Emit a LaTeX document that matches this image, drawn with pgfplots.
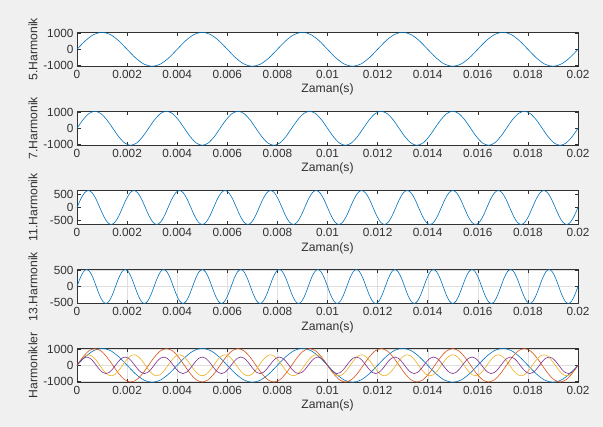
\documentclass[border=0pt]{standalone}
\usepackage{fontspec}
\setmainfont{Liberation Sans}
\usepackage{pgfplots}
\usepackage{pgfplotstable}
\pgfplotsset{compat=1.18}
\definecolor{mblue}{RGB}{0,114,189}
\definecolor{morange}{RGB}{217,83,25}
\definecolor{myellow}{RGB}{237,177,32}
\definecolor{mpurple}{RGB}{126,47,142}
\definecolor{figbg}{RGB}{240,240,240}
\definecolor{axcol}{RGB}{50,50,50}
\definecolor{gridcol}{RGB}{223,223,223}

\pgfplotstableread{
t v
0 0
0.000333 535
0.000667 927
0.001 1070
0.001333 927
0.001667 535
0.002 0
0.002333 -535
0.002667 -927
0.003 -1070
0.003333 -927
0.003667 -535
0.004 0
0.004333 535
0.004667 927
0.005 1070
0.005333 927
0.005667 535
0.006 0
0.006333 -535
0.006667 -927
0.007 -1070
0.007333 -927
0.007667 -535
0.008 0
0.008333 535
0.008667 927
0.009 1070
0.009333 927
0.009667 535
0.010 0
0.010333 -535
0.010667 -927
0.011 -1070
0.011333 -927
0.011667 -535
0.012 0
0.012333 535
0.012667 927
0.013 1070
0.013333 927
0.013667 535
0.014 0
0.014333 -535
0.014667 -927
0.015 -1070
0.015333 -927
0.015667 -535
0.016 0
0.016333 535
0.016667 927
0.017 1070
0.017333 927
0.017667 535
0.018 0
0.018333 -535
0.018667 -927
0.019 -1070
0.019333 -927
0.019667 -535
0.020 0
}\tabfive

\pgfplotstableread{
t v
0 0
0.000238 525
0.000476 909
0.000714 1050
0.000952 909
0.001190 525
0.001429 0
0.001667 -525
0.001905 -909
0.002143 -1050
0.002381 -909
0.002619 -525
0.002857 0
0.003095 525
0.003333 909
0.003571 1050
0.003810 909
0.004048 525
0.004286 0
0.004524 -525
0.004762 -909
0.005000 -1050
0.005238 -909
0.005476 -525
0.005714 0
0.005952 525
0.006190 909
0.006429 1050
0.006667 909
0.006905 525
0.007143 0
0.007381 -525
0.007619 -909
0.007857 -1050
0.008095 -909
0.008333 -525
0.008571 0
0.008810 525
0.009048 909
0.009286 1050
0.009524 909
0.009762 525
0.010000 0
0.010238 -525
0.010476 -909
0.010714 -1050
0.010952 -909
0.011190 -525
0.011429 0
0.011667 525
0.011905 909
0.012143 1050
0.012381 909
0.012619 525
0.012857 0
0.013095 -525
0.013333 -909
0.013571 -1050
0.013810 -909
0.014048 -525
0.014286 0
0.014524 525
0.014762 909
0.015000 1050
0.015238 909
0.015476 525
0.015714 0
0.015952 -525
0.016190 -909
0.016429 -1050
0.016667 -909
0.016905 -525
0.017143 0
0.017381 525
0.017619 909
0.017857 1050
0.018095 909
0.018333 525
0.018571 0
0.018810 -525
0.019048 -909
0.019286 -1050
0.019524 -909
0.019762 -525
0.020000 0
}\tabseven

\pgfplotstableread{
t v
0 0
0.000152 330
0.000303 572
0.000455 660
0.000606 572
0.000758 330
0.000909 0
0.001061 -330
0.001212 -572
0.001364 -660
0.001515 -572
0.001667 -330
0.001818 0
0.001970 330
0.002121 572
0.002273 660
0.002424 572
0.002576 330
0.002727 0
0.002879 -330
0.003030 -572
0.003182 -660
0.003333 -572
0.003485 -330
0.003636 0
0.003788 330
0.003939 572
0.004091 660
0.004242 572
0.004394 330
0.004545 0
0.004697 -330
0.004848 -572
0.005000 -660
0.005152 -572
0.005303 -330
0.005455 0
0.005606 330
0.005758 572
0.005909 660
0.006061 572
0.006212 330
0.006364 0
0.006515 -330
0.006667 -572
0.006818 -660
0.006970 -572
0.007121 -330
0.007273 0
0.007424 330
0.007576 572
0.007727 660
0.007879 572
0.008030 330
0.008182 0
0.008333 -330
0.008485 -572
0.008636 -660
0.008788 -572
0.008939 -330
0.009091 0
0.009242 330
0.009394 572
0.009545 660
0.009697 572
0.009848 330
0.010000 0
0.010152 -330
0.010303 -572
0.010455 -660
0.010606 -572
0.010758 -330
0.010909 0
0.011061 330
0.011212 572
0.011364 660
0.011515 572
0.011667 330
0.011818 0
0.011970 -330
0.012121 -572
0.012273 -660
0.012424 -572
0.012576 -330
0.012727 0
0.012879 330
0.013030 572
0.013182 660
0.013333 572
0.013485 330
0.013636 0
0.013788 -330
0.013939 -572
0.014091 -660
0.014242 -572
0.014394 -330
0.014545 0
0.014697 330
0.014848 572
0.015000 660
0.015152 572
0.015303 330
0.015455 0
0.015606 -330
0.015758 -572
0.015909 -660
0.016061 -572
0.016212 -330
0.016364 0
0.016515 330
0.016667 572
0.016818 660
0.016970 572
0.017121 330
0.017273 0
0.017424 -330
0.017576 -572
0.017727 -660
0.017879 -572
0.018030 -330
0.018182 0
0.018333 330
0.018485 572
0.018636 660
0.018788 572
0.018939 330
0.019091 0
0.019242 -330
0.019394 -572
0.019545 -660
0.019697 -572
0.019848 -330
0.020000 0
}\tabeleven

\pgfplotstableread{
t v
0 0
0.000128 260
0.000256 450
0.000385 520
0.000513 450
0.000641 260
0.000769 0
0.000897 -260
0.001026 -450
0.001154 -520
0.001282 -450
0.001410 -260
0.001538 0
0.001667 260
0.001795 450
0.001923 520
0.002051 450
0.002179 260
0.002308 0
0.002436 -260
0.002564 -450
0.002692 -520
0.002821 -450
0.002949 -260
0.003077 0
0.003205 260
0.003333 450
0.003462 520
0.003590 450
0.003718 260
0.003846 0
0.003974 -260
0.004103 -450
0.004231 -520
0.004359 -450
0.004487 -260
0.004615 0
0.004744 260
0.004872 450
0.005000 520
0.005128 450
0.005256 260
0.005385 0
0.005513 -260
0.005641 -450
0.005769 -520
0.005897 -450
0.006026 -260
0.006154 0
0.006282 260
0.006410 450
0.006538 520
0.006667 450
0.006795 260
0.006923 0
0.007051 -260
0.007179 -450
0.007308 -520
0.007436 -450
0.007564 -260
0.007692 0
0.007821 260
0.007949 450
0.008077 520
0.008205 450
0.008333 260
0.008462 0
0.008590 -260
0.008718 -450
0.008846 -520
0.008974 -450
0.009103 -260
0.009231 0
0.009359 260
0.009487 450
0.009615 520
0.009744 450
0.009872 260
0.010000 0
0.010128 -260
0.010256 -450
0.010385 -520
0.010513 -450
0.010641 -260
0.010769 0
0.010897 260
0.011026 450
0.011154 520
0.011282 450
0.011410 260
0.011538 0
0.011667 -260
0.011795 -450
0.011923 -520
0.012051 -450
0.012179 -260
0.012308 0
0.012436 260
0.012564 450
0.012692 520
0.012821 450
0.012949 260
0.013077 0
0.013205 -260
0.013333 -450
0.013462 -520
0.013590 -450
0.013718 -260
0.013846 0
0.013974 260
0.014103 450
0.014231 520
0.014359 450
0.014487 260
0.014615 0
0.014744 -260
0.014872 -450
0.015000 -520
0.015128 -450
0.015256 -260
0.015385 0
0.015513 260
0.015641 450
0.015769 520
0.015897 450
0.016026 260
0.016154 0
0.016282 -260
0.016410 -450
0.016538 -520
0.016667 -450
0.016795 -260
0.016923 0
0.017051 260
0.017179 450
0.017308 520
0.017436 450
0.017564 260
0.017692 0
0.017821 -260
0.017949 -450
0.018077 -520
0.018205 -450
0.018333 -260
0.018462 0
0.018590 260
0.018718 450
0.018846 520
0.018974 450
0.019103 260
0.019231 0
0.019359 -260
0.019487 -450
0.019615 -520
0.019744 -450
0.019872 -260
0.020000 0
}\tabthirteen

\pgfplotsset{
  mstyle/.style={
    scale only axis, width=501pt, height=34pt,
    xmin=0, xmax=0.02,
    xtick={0,0.002,0.004,0.006,0.008,0.01,0.012,0.014,0.016,0.018,0.02},
    xticklabels={0,0.002,0.004,0.006,0.008,0.01,0.012,0.014,0.016,0.018,0.02},
    scaled x ticks=false, scaled y ticks=false,
    tick align=inside, xtick pos=both, ytick pos=both,
    major tick length=3.5pt,
    axis line style={axcol, line width=0.5pt},
    tick style={axcol, line width=0.5pt},
    ticklabel style={font=\fontsize{11.8}{13}\selectfont, text=axcol},
    label style={font=\fontsize{12.2}{14}\selectfont, text=axcol},
    /pgf/number format/assume math mode=true,
    /pgf/number format/1000 sep={},
    axis background/.style={fill=white},
    xlabel={Zaman(s)},
    xlabel style={yshift=1pt},
    ylabel style={at={(axis description cs:-0.088,0.5)}, anchor=center},
    every axis plot/.append style={line width=0.6pt, smooth, no markers},
    major grid style={gridcol, line width=0.4pt},
  }
}

\begin{document}
\begin{tikzpicture}
\fill[figbg] (0,0) rectangle (603pt,427pt);
\useasboundingbox (0,0) rectangle (603pt,427pt);

\begin{axis}[mstyle, at={(77pt,394.7pt)}, anchor=north west,
  ymin=-1070, ymax=1070, ytick={-1000,0,1000}, ylabel={5.Harmonik}]
\addplot[mblue] table[x=t,y=v] {\tabfive};
\end{axis}

\begin{axis}[mstyle, at={(77pt,315.7pt)}, anchor=north west,
  ymin=-1050, ymax=1050, ytick={-1000,0,1000}, ylabel={7.Harmonik}]
\addplot[mblue] table[x=t,y=v] {\tabseven};
\end{axis}

\begin{axis}[mstyle, at={(77pt,236.5pt)}, anchor=north west,
  ymin=-660, ymax=660, ytick={-500,0,500}, ylabel={11.Harmonik}]
\addplot[mblue] table[x=t,y=v] {\tabeleven};
\end{axis}

\begin{axis}[mstyle, at={(77pt,157.5pt)}, anchor=north west,
  ymin=-520, ymax=520, ytick={-500,0,500}, ylabel={13.Harmonik}, grid=major]
\addplot[mblue] table[x=t,y=v] {\tabthirteen};
\end{axis}

\begin{axis}[mstyle, at={(77pt,78.7pt)}, anchor=north west,
  ymin=-1070, ymax=1070, ytick={-1000,0,1000}, ylabel={Harmonikler}, grid=major]
\addplot[mblue] table[x=t,y=v] {\tabfive};
\addplot[morange] table[x=t,y=v] {\tabseven};
\addplot[myellow] table[x=t,y=v] {\tabeleven};
\addplot[mpurple] table[x=t,y=v] {\tabthirteen};
\end{axis}
\end{tikzpicture}
\end{document}
